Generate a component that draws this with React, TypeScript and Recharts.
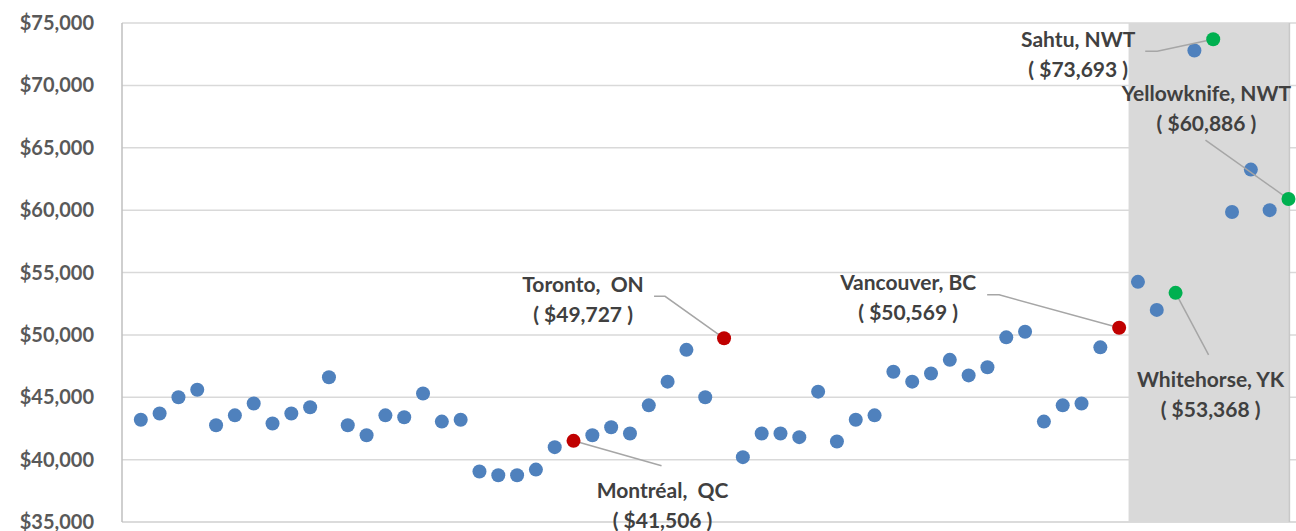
import React from 'react';
import { ScatterChart, Scatter, XAxis, YAxis, CartesianGrid, ReferenceArea, ReferenceLine } from 'recharts';

// median income by community, left to right as plotted
const incomes = [
  43200, 43700, 45000, 45600, 42750, 43550, 44500, 42900, 43700, 44200,
  46600, 42750, 41950, 43550, 43400, 45300, 43050, 43200, 39050, 38750,
  38750, 39200, 41000, 41506, 41950, 42600, 42100, 44350, 46250, 48800,
  45000, 49727, 40200, 42100, 42100, 41800, 45450, 41450, 43200, 43550,
  47050, 46250, 46900, 48000, 46750, 47400, 49800, 50250, 43050, 44350,
  44500, 49000, 50569, 54250, 52000, 53368, 72800, 73693, 59850, 63250,
  60000, 60886,
];

const cityNames = ['Montréal,  QC', 'Toronto,  ON', 'Vancouver, BC', 'Whitehorse, YK', 'Sahtu, NWT', 'Yellowknife, NWT'];
const cityIndex = [23, 31, 52, 55, 57, 61];
const cityGroup = ['south', 'south', 'south', 'north', 'north', 'north'];

const yTicks = [35000, 40000, 45000, 50000, 55000, 60000, 65000, 70000, 75000];

// label placement relative to the point (pixels)
const labelLayout: Record<string, { dx: number; dy: number; leader: [number, number][] }> = {
  'Montréal,  QC': { dx: 89, dy: 49, leader: [[0, 0], [88, 25]] },
  'Toronto,  ON': { dx: -141, dy: -55, leader: [[-70, -42], [-59, -42], [0, 0]] },
  'Vancouver, BC': { dx: -211, dy: -46, leader: [[-132, -33], [-120, -33], [0, 0]] },
  'Whitehorse, YK': { dx: 35, dy: 86, leader: [[0, 0], [33, 62]] },
  'Sahtu, NWT': { dx: -135, dy: -1, leader: [[-68, 12], [-56, 12], [0, 0]] },
  'Yellowknife, NWT': { dx: -82, dy: -107, leader: [[-83, -59], [0, 0]] },
};

const fmt = (v: number) => `$${v.toLocaleString('en-US')}`;

const allPoints = incomes.map((v, i) => ({ x: i + 1, y: v }));
const basePoints = allPoints.filter((_, i) => !cityIndex.includes(i));
const cityPoints = cityIndex.map((idx, k) => ({ x: idx + 1, y: incomes[idx], name: cityNames[k], group: cityGroup[k] }));
const southPoints = cityPoints.filter((p) => p.group === 'south');
const northPoints = cityPoints.filter((p) => p.group === 'north');

const FONT = 'Lato, "Open Sans", sans-serif';

const Dot = (props: any) => <circle cx={props.cx} cy={props.cy} r={7} fill={props.fill} />;

const CityDot = (props: any) => {
  const { cx, cy, fill, payload } = props;
  const lay = labelLayout[payload.name];
  const pts = lay.leader.map(([a, b]) => `${cx + a},${cy + b}`).join(' ');
  const textProps = {
    textAnchor: 'middle' as const,
    dominantBaseline: 'central' as const,
    fontFamily: FONT,
    fontWeight: 700,
    fontSize: 21,
    fill: '#404040',
    style: { whiteSpace: 'pre' as const },
  };
  return (
    <g>
      <polyline points={pts} fill="none" stroke="#a6a6a6" strokeWidth={1.5} />
      <circle cx={cx} cy={cy} r={7} fill={fill} />
      <text x={cx + lay.dx} y={cy + lay.dy} {...textProps}>
        {payload.name}
      </text>
      <text x={cx + lay.dx} y={cy + lay.dy + 30} {...textProps}>
        {`( ${fmt(payload.y)} )`}
      </text>
    </g>
  );
};

export default function App() {
  return (
    <div style={{ position: 'absolute', left: 0, top: 0, width: 1296, height: 531, background: '#fff' }}>
      <ScatterChart width={1296} height={531} margin={{ top: 23, right: 0, bottom: 9, left: 0 }}>
        <CartesianGrid vertical={false} stroke="#d9d9d9" strokeWidth={1.5} />
        <XAxis type="number" dataKey="x" domain={[0, 62.4]} hide allowDataOverflow />
        <YAxis
          type="number"
          dataKey="y"
          domain={[35000, 75000]}
          ticks={yTicks}
          interval={0}
          width={122}
          tickFormatter={fmt}
          tickLine={false}
          tickSize={0}
          tickMargin={28}
          axisLine={{ stroke: '#bfbfbf', strokeWidth: 1.5 }}
          tick={{ fill: '#595959', fontSize: 20, fontWeight: 700, fontFamily: FONT }}
        />
        <ReferenceArea x1={53.5} x2={62.05} fill="#d9d9d9" fillOpacity={1} stroke="none" />
        <ReferenceLine y={35000} stroke="#d9d9d9" strokeWidth={1.5} />
        <ReferenceLine x={62.05} stroke="#c8c8c8" strokeWidth={1.5} />
        <Scatter data={basePoints} fill="#4f81bd" shape={Dot} isAnimationActive={false} />
        <Scatter data={southPoints} fill="#c00000" shape={CityDot} isAnimationActive={false} />
        <Scatter data={northPoints} fill="#00b050" shape={CityDot} isAnimationActive={false} />
      </ScatterChart>
    </div>
  );
}
